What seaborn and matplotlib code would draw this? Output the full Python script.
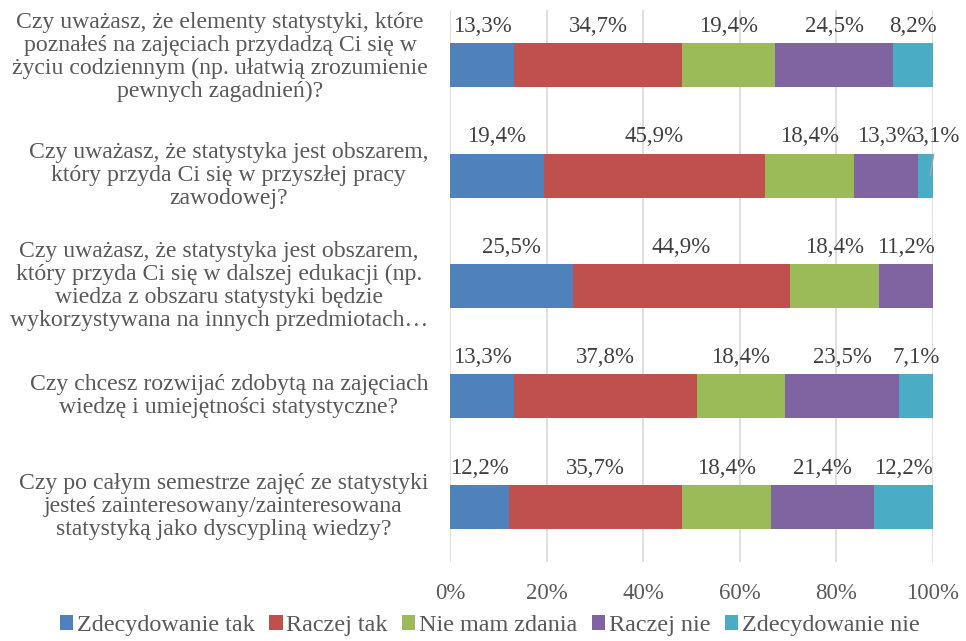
import matplotlib
matplotlib.use("Agg")
import matplotlib.pyplot as plt
import seaborn as sns
import numpy as np
import pandas as pd

categories = [
    "Czy uważasz, że elementy statystyki, które\npoznałeś na zajęciach przydadzą Ci się w\nżyciu codziennym (np. ułatwią zrozumienie\npewnych zagadnień)?",
    "Czy uważasz, że statystyka jest obszarem,\nktóry przyda Ci się w przyszłej pracy\nzawodowej?",
    "Czy uważasz, że statystyka jest obszarem,\nktóry przyda Ci się w dalszej edukacji (np.\nwiedza z obszaru statystyki będzie\nwykorzystywana na innych przedmiotach…",
    "Czy chcesz rozwijać zdobytą na zajęciach\nwiedzę i umiejętności statystyczne?",
    "Czy po całym semestrze zajęć ze statystyki\njesteś zainteresowany/zainteresowana\nstatystyką jako dyscypliną wiedzy?",
]
series = ["Zdecydowanie tak", "Raczej tak", "Nie mam zdania", "Raczej nie", "Zdecydowanie nie"]
zdecydowanie_tak = [13.3, 19.4, 25.5, 13.3, 12.2]
raczej_tak = [34.7, 45.9, 44.9, 37.8, 35.7]
nie_mam_zdania = [19.4, 18.4, 18.4, 18.4, 18.4]
raczej_nie = [24.5, 13.3, 11.2, 23.5, 21.4]
zdecydowanie_nie = [8.2, 3.1, 0.0, 7.1, 12.2]
colors = ["#4F81BD", "#C0504D", "#9BBB59", "#8064A2", "#4BACC6"]
xticks = [0, 20, 40, 60, 80, 100]
xticklabels = ["0%", "20%", "40%", "60%", "80%", "100%"]

vals = np.array([zdecydowanie_tak, raczej_tak, nie_mam_zdania, raczej_nie, zdecydowanie_nie])
totals = vals.sum(axis=0)
shares = vals / totals * 100
cum = np.cumsum(shares, axis=0)

sns.set_theme(style="white")
plt.rcParams["font.family"] = ["Liberation Serif", "DejaVu Serif"]
FS_CAT = 17.1
FS_LAB = 16.5
FS_TICK = 16.5
FS_LEG = 17.4

fig = plt.figure(figsize=(9.66, 6.41), dpi=100)
ax = fig.add_axes([450 / 966, 1 - 562 / 641, 483 / 966, 552 / 641])

ids = list(range(len(categories)))
for i in range(len(series) - 1, -1, -1):
    df = pd.DataFrame({"cat": ids, "val": cum[i]})
    sns.barplot(data=df, x="val", y="cat", orient="h", order=ids, color=colors[i],
                width=0.4, ax=ax, saturation=1, linewidth=0, label=series[i])

ax.set_xlim(0, 100)
ax.set_ylim(4.5, -0.5)
ax.set_xticks(xticks)
ax.set_xticklabels(xticklabels, fontsize=FS_TICK, color="#595959")
ax.tick_params(axis="x", length=0, pad=15)
ax.set_yticks([])
ax.set_xlabel("")
ax.set_ylabel("")
ax.grid(axis="x", color="#D9D9D9", linewidth=1.2)
ax.set_axisbelow(True)
for s in ax.spines.values():
    s.set_visible(False)

# data labels
for i in range(len(series)):
    for j in ids:
        v = vals[i, j]
        if v <= 0:
            continue
        left = cum[i, j] - shares[i, j]
        xc = left + shares[i, j] / 2
        txt = f"{v:.1f}".replace(".", ",") + "%"
        if i == 4 and j == 1:
            ax.annotate(txt, xy=(cum[i, j] - 0.6, j), xytext=(100.8, j - 0.2 - 0.155),
                        ha="center", va="center", fontsize=FS_LAB, color="#404040",
                        annotation_clip=False,
                        arrowprops=dict(arrowstyle="-", color="#A6A6A6", lw=1,
                                        shrinkA=3, shrinkB=0))
        else:
            ax.annotate(txt, xy=(xc, j - 0.2), xytext=(0, 12), textcoords="offset points",
                        ha="center", va="center", fontsize=FS_LAB, color="#404040",
                        annotation_clip=False)

# category labels
trans = ax.get_yaxis_transform()
for j, c in enumerate(categories):
    yoff = -0.075 if j == 0 else 0
    ax.text(-0.0455, j + yoff, c, transform=trans, ha="right", va="center",
            multialignment="center", fontsize=FS_CAT, color="#595959", linespacing=1.12)

handles, labels = ax.get_legend_handles_labels()
order = [labels.index(s) for s in series]
leg = fig.legend([handles[k] for k in order], [labels[k] for k in order],
                 loc="center", bbox_to_anchor=(0.507, 0.024), ncol=5, frameon=False,
                 fontsize=FS_LEG, handlelength=0.55, handleheight=0.55, handletextpad=0.15,
                 columnspacing=0.6, labelcolor="#595959")
if ax.get_legend() is not None:
    ax.get_legend().remove()

fig.savefig("out.png", dpi=100)
